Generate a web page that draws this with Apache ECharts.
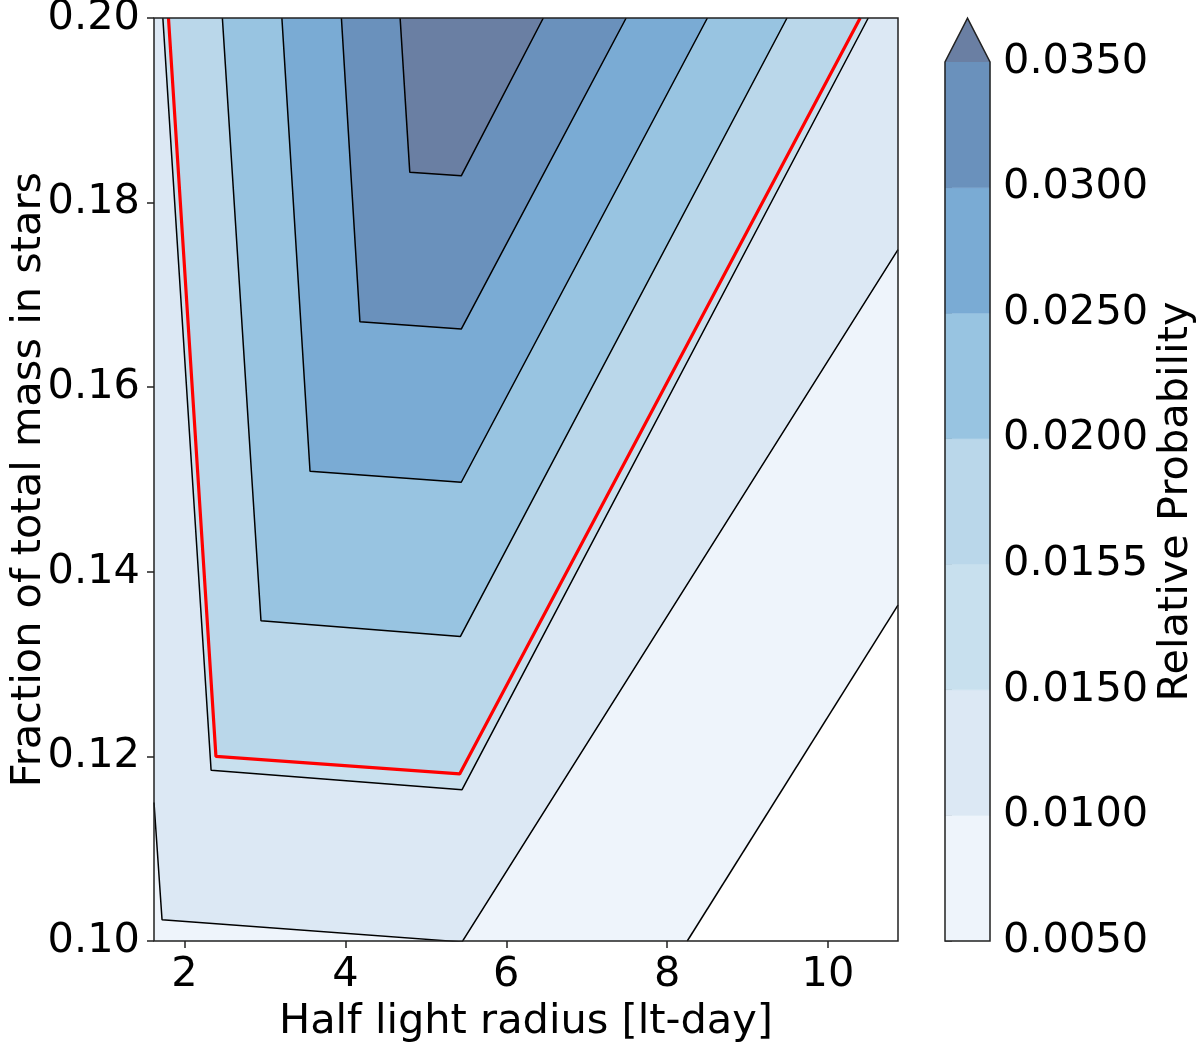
<!DOCTYPE html>
<html>
<head>
<meta charset="utf-8">
<script src="https://cdn.jsdelivr.net/npm/echarts@6/dist/echarts.min.js"></script>
<style>
  html, body { margin: 0; padding: 0; background: #fff; }
  #contourChart { width: 1200px; height: 1045px; }
</style>
</head>
<body>
<div id="contourChart"></div>
<script>
// axis ranges and ticks
const xRange = [1.62, 10.87]
const yRange = [0.10, 0.20]
const xTicks = [2, 4, 6, 8, 10]
const yTicks = [0.10, 0.12, 0.14, 0.16, 0.18, 0.20]

// contour levels (colorbar)
const levelLabels = ['0.0050', '0.0100', '0.0150', '0.0155', '0.0200', '0.0250', '0.0300', '0.0350']
const bandColors = ['#eef4fb', '#dce8f4', '#c8e0ee', '#bad7ea', '#98c4e1', '#7aabd4', '#6a91bc']
const overColor = '#6a7fa3'

// contour lines, [half light radius, fraction of mass]
const line005 = [[8.25, 0.10], [10.87, 0.1364]]
const line010 = [[1.62, 0.1150], [1.72, 0.1023], [5.45, 0.0999], [10.87, 0.1749]]
const line015 = [[1.73, 0.20], [2.33, 0.1185], [5.45, 0.1164], [10.50, 0.20]]
const line0155 = [[1.80, 0.20], [2.39, 0.1200], [5.42, 0.1181], [10.40, 0.20]]
const line020 = [[2.47, 0.20], [2.95, 0.1347], [5.43, 0.1330], [9.49, 0.20]]
const line025 = [[3.21, 0.20], [3.56, 0.1509], [5.44, 0.1497], [8.50, 0.20]]
const line030 = [[3.95, 0.20], [4.18, 0.1671], [5.44, 0.1663], [7.49, 0.20]]
const line035 = [[4.68, 0.20], [4.80, 0.1833], [5.44, 0.1829], [6.46, 0.20]]

const FONT = "'DejaVu Sans', sans-serif"
const FS = 41.5

// region above each level, painted from lowest to highest
const regions = [
  { color: bandColors[0], points: line005.concat([[xRange[1], yRange[1]], [xRange[0], yRange[1]], [xRange[0], yRange[0]]]) },
  { color: bandColors[1], points: line010.concat([[xRange[1], yRange[1]], [xRange[0], yRange[1]]]) },
  { color: bandColors[2], points: line015 },
  { color: bandColors[3], points: line0155 },
  { color: bandColors[4], points: line020 },
  { color: bandColors[5], points: line025 },
  { color: bandColors[6], points: line030 },
  { color: overColor, points: line035 }
]

const blackLines = [line005, line010, line015, line020, line025, line030, line035]

function lineSeries (pts, color, width) {
  return {
    type: 'line',
    xAxisIndex: 0,
    yAxisIndex: 0,
    data: pts,
    symbol: 'none',
    silent: true,
    z: 5,
    lineStyle: { color: color, width: width }
  }
}

const chart = echarts.init(document.getElementById('contourChart'))

const option = {
  animation: false,
  textStyle: { fontFamily: FONT },
  grid: [
    { left: 154, top: 18, width: 744, height: 923, outerBoundsMode: 'none', containLabel: false },
    { left: 945, top: 62, width: 45, height: 879, outerBoundsMode: 'none', containLabel: false }
  ],
  xAxis: [
    {
      type: 'value',
      gridIndex: 0,
      min: xRange[0],
      max: xRange[1],
      splitLine: { show: false },
      axisLine: { show: false },
      axisTick: { show: true, customValues: xTicks, length: 7, lineStyle: { color: '#222', width: 1.5 } },
      axisLabel: { customValues: xTicks, fontSize: FS, fontFamily: FONT, color: '#000', margin: 13 },
      name: 'Half light radius [lt-day]',
      nameLocation: 'middle',
      nameGap: 60,
      nameTextStyle: { fontSize: FS, fontFamily: FONT, color: '#000' }
    },
    {
      type: 'value',
      gridIndex: 1,
      min: 0,
      max: 1,
      show: false
    }
  ],
  yAxis: [
    {
      type: 'value',
      gridIndex: 0,
      min: yRange[0],
      max: yRange[1],
      splitLine: { show: false },
      axisLine: { show: false },
      axisTick: { show: true, customValues: yTicks, length: 7, lineStyle: { color: '#222', width: 1.5 } },
      axisLabel: {
        customValues: yTicks,
        fontSize: FS,
        fontFamily: FONT,
        color: '#000',
        margin: 14,
        formatter: v => v.toFixed(2)
      },
      name: 'Fraction of total mass in stars',
      nameLocation: 'middle',
      nameRotate: 90,
      nameGap: 104,
      nameMoveOverlap: false,
      nameTextStyle: { fontSize: FS, fontFamily: FONT, color: '#000' }
    },
    {
      type: 'value',
      gridIndex: 1,
      position: 'right',
      min: 0,
      max: 7,
      splitLine: { show: false },
      axisLine: { show: false },
      axisTick: { show: true, customValues: [0, 1, 2, 3, 4, 5, 6, 7], length: 7, lineStyle: { color: '#222', width: 1.5 } },
      axisLabel: {
        customValues: [0, 1, 2, 3, 4, 5, 6, 7],
        fontSize: FS,
        fontFamily: FONT,
        color: '#000',
        margin: 13,
        formatter: v => levelLabels[Math.round(v)]
      },
      name: 'Relative Probability',
      nameLocation: 'middle',
      nameRotate: 90,
      nameGap: 165,
      nameTextStyle: { fontSize: FS, fontFamily: FONT, color: '#000' }
    }
  ],
  series: [
    // filled contours
    {
      type: 'custom',
      xAxisIndex: 0,
      yAxisIndex: 0,
      clip: true,
      silent: true,
      z: 2,
      data: regions.map((r, i) => [r.points[0][0], r.points[0][1], i]),
      renderItem: (params, api) => {
        const reg = regions[params.dataIndex]
        return {
          type: 'polygon',
          shape: { points: reg.points.map(p => api.coord(p)) },
          style: { fill: reg.color, stroke: reg.color, lineWidth: 0.5 }
        }
      }
    },
    ...blackLines.map(l => lineSeries(l, '#000', 1.5)),
    lineSeries(line0155, '#ff0000', 3.2),
    // plot frame
    {
      type: 'custom',
      xAxisIndex: 0,
      yAxisIndex: 0,
      clip: false,
      silent: true,
      z: 10,
      data: [[xRange[0], yRange[0]]],
      renderItem: (params, api) => {
        const a = api.coord([xRange[0], yRange[1]])
        const b = api.coord([xRange[1], yRange[0]])
        return {
          type: 'rect',
          shape: { x: a[0], y: a[1], width: b[0] - a[0], height: b[1] - a[1] },
          style: { fill: 'none', stroke: '#222', lineWidth: 1.5 }
        }
      }
    },
    // colorbar bands
    {
      type: 'custom',
      xAxisIndex: 1,
      yAxisIndex: 1,
      clip: false,
      silent: true,
      z: 2,
      data: bandColors.map((c, i) => [0, i]),
      renderItem: (params, api) => {
        const i = params.dataIndex
        const a = api.coord([0, i + 1])
        const b = api.coord([1, i])
        return {
          type: 'rect',
          shape: { x: a[0], y: a[1], width: b[0] - a[0], height: b[1] - a[1] },
          style: { fill: bandColors[i], stroke: bandColors[i], lineWidth: 0.5 }
        }
      }
    },
    // colorbar extend triangle and outline
    {
      type: 'custom',
      xAxisIndex: 1,
      yAxisIndex: 1,
      clip: false,
      silent: true,
      z: 3,
      data: [[0, 7]],
      renderItem: (params, api) => {
        const tri = [[0, 7], [0.5, 7.35], [1, 7]].map(p => api.coord(p))
        const outline = [[0, 0], [0, 7], [0.5, 7.35], [1, 7], [1, 0]].map(p => api.coord(p))
        return {
          type: 'group',
          children: [
            { type: 'polygon', shape: { points: tri }, style: { fill: overColor } },
            { type: 'polygon', shape: { points: outline }, style: { fill: 'none', stroke: '#222', lineWidth: 1.5 } }
          ]
        }
      }
    }
  ]
}

chart.setOption(option)
</script>
</body>
</html>
